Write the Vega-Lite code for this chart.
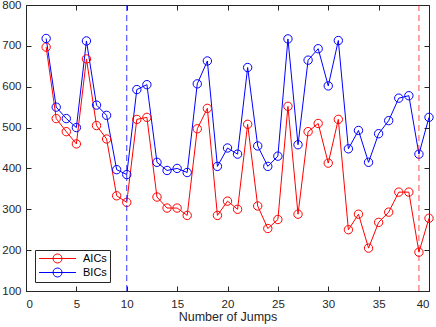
{
  "$schema": "https://vega.github.io/schema/vega-lite/v6.json",
  "width": 403,
  "height": 286,
  "autosize": {"type": "none"},
  "padding": {"left": 26, "top": 5, "right": 7, "bottom": 36},
  "background": "white",
  "config": {
    "font": "Liberation Sans",
    "view": {"stroke": "#262626", "strokeWidth": 1},
    "axis": {
      "grid": false,
      "domainColor": "#262626",
      "tickColor": "#262626",
      "labelColor": "#262626",
      "titleColor": "#262626",
      "labelFont": "Liberation Sans",
      "titleFont": "Liberation Sans",
      "labelFontSize": 11.5,
      "titleFontSize": 12.5,
      "titleFontWeight": "normal",
      "tickSize": -5
    }
  },
  "datasets": {
    "ic": [
      {"jumps": 2, "criterion": "AICs", "value": 697},
      {"jumps": 3, "criterion": "AICs", "value": 522},
      {"jumps": 4, "criterion": "AICs", "value": 490},
      {"jumps": 5, "criterion": "AICs", "value": 460},
      {"jumps": 6, "criterion": "AICs", "value": 668},
      {"jumps": 7, "criterion": "AICs", "value": 505},
      {"jumps": 8, "criterion": "AICs", "value": 472},
      {"jumps": 9, "criterion": "AICs", "value": 333},
      {"jumps": 10, "criterion": "AICs", "value": 317},
      {"jumps": 11, "criterion": "AICs", "value": 520},
      {"jumps": 12, "criterion": "AICs", "value": 525},
      {"jumps": 13, "criterion": "AICs", "value": 330},
      {"jumps": 14, "criterion": "AICs", "value": 303},
      {"jumps": 15, "criterion": "AICs", "value": 303},
      {"jumps": 16, "criterion": "AICs", "value": 285},
      {"jumps": 17, "criterion": "AICs", "value": 497},
      {"jumps": 18, "criterion": "AICs", "value": 547},
      {"jumps": 19, "criterion": "AICs", "value": 285},
      {"jumps": 20, "criterion": "AICs", "value": 320},
      {"jumps": 21, "criterion": "AICs", "value": 300},
      {"jumps": 22, "criterion": "AICs", "value": 508},
      {"jumps": 23, "criterion": "AICs", "value": 308},
      {"jumps": 24, "criterion": "AICs", "value": 253},
      {"jumps": 25, "criterion": "AICs", "value": 275},
      {"jumps": 26, "criterion": "AICs", "value": 552},
      {"jumps": 27, "criterion": "AICs", "value": 288},
      {"jumps": 28, "criterion": "AICs", "value": 490},
      {"jumps": 29, "criterion": "AICs", "value": 510},
      {"jumps": 30, "criterion": "AICs", "value": 413},
      {"jumps": 31, "criterion": "AICs", "value": 520},
      {"jumps": 32, "criterion": "AICs", "value": 250},
      {"jumps": 33, "criterion": "AICs", "value": 288},
      {"jumps": 34, "criterion": "AICs", "value": 205},
      {"jumps": 35, "criterion": "AICs", "value": 268},
      {"jumps": 36, "criterion": "AICs", "value": 293},
      {"jumps": 37, "criterion": "AICs", "value": 342},
      {"jumps": 38, "criterion": "AICs", "value": 342},
      {"jumps": 39, "criterion": "AICs", "value": 195},
      {"jumps": 40, "criterion": "AICs", "value": 278},
      {"jumps": 2, "criterion": "BICs", "value": 718},
      {"jumps": 3, "criterion": "BICs", "value": 550},
      {"jumps": 4, "criterion": "BICs", "value": 522},
      {"jumps": 5, "criterion": "BICs", "value": 500},
      {"jumps": 6, "criterion": "BICs", "value": 712},
      {"jumps": 7, "criterion": "BICs", "value": 555},
      {"jumps": 8, "criterion": "BICs", "value": 530},
      {"jumps": 9, "criterion": "BICs", "value": 397},
      {"jumps": 10, "criterion": "BICs", "value": 385},
      {"jumps": 11, "criterion": "BICs", "value": 593},
      {"jumps": 12, "criterion": "BICs", "value": 605},
      {"jumps": 13, "criterion": "BICs", "value": 415},
      {"jumps": 14, "criterion": "BICs", "value": 395},
      {"jumps": 15, "criterion": "BICs", "value": 400},
      {"jumps": 16, "criterion": "BICs", "value": 390},
      {"jumps": 17, "criterion": "BICs", "value": 607},
      {"jumps": 18, "criterion": "BICs", "value": 663},
      {"jumps": 19, "criterion": "BICs", "value": 405},
      {"jumps": 20, "criterion": "BICs", "value": 450},
      {"jumps": 21, "criterion": "BICs", "value": 435},
      {"jumps": 22, "criterion": "BICs", "value": 647},
      {"jumps": 23, "criterion": "BICs", "value": 455},
      {"jumps": 24, "criterion": "BICs", "value": 405},
      {"jumps": 25, "criterion": "BICs", "value": 430},
      {"jumps": 26, "criterion": "BICs", "value": 717},
      {"jumps": 27, "criterion": "BICs", "value": 458},
      {"jumps": 28, "criterion": "BICs", "value": 665},
      {"jumps": 29, "criterion": "BICs", "value": 693},
      {"jumps": 30, "criterion": "BICs", "value": 602},
      {"jumps": 31, "criterion": "BICs", "value": 713},
      {"jumps": 32, "criterion": "BICs", "value": 448},
      {"jumps": 33, "criterion": "BICs", "value": 493},
      {"jumps": 34, "criterion": "BICs", "value": 415},
      {"jumps": 35, "criterion": "BICs", "value": 485},
      {"jumps": 36, "criterion": "BICs", "value": 517},
      {"jumps": 37, "criterion": "BICs", "value": 572},
      {"jumps": 38, "criterion": "BICs", "value": 578},
      {"jumps": 39, "criterion": "BICs", "value": 435},
      {"jumps": 40, "criterion": "BICs", "value": 525}
    ]
  },
  "layer": [
    {
      "data": {"name": "ic"},
      "mark": {
        "type": "line",
        "strokeWidth": 1,
        "point": {"filled": false, "size": 70, "strokeWidth": 1}
      },
      "encoding": {
        "x": {
          "field": "jumps",
          "type": "quantitative",
          "title": "Number of Jumps",
          "scale": {"domain": [0, 40], "nice": false},
          "axis": {"values": [0, 5, 10, 15, 20, 25, 30, 35, 40], "labelPadding": 12, "titlePadding": 1, "orient": "bottom"}
        },
        "y": {
          "field": "value",
          "type": "quantitative",
          "title": null,
          "scale": {"domain": [100, 800], "nice": false},
          "axis": {"values": [100, 200, 300, 400, 500, 600, 700, 800], "labelPadding": 10, "orient": "left"}
        },
        "color": {
          "field": "criterion",
          "type": "nominal",
          "scale": {"domain": ["AICs", "BICs"], "range": ["#ff0000", "#0000ff"]},
          "legend": {
            "title": null,
            "orient": "bottom-left",
            "offset": 9,
            "strokeColor": "#262626",
            "fillColor": "white",
            "padding": 3,
            "rowPadding": 1,
            "labelFontSize": 11,
            "labelColor": "#000000",
            "labelFont": "Liberation Sans",
            "symbolType": "M-4.1,0H4.1M1,0A1,1,0,1,1,-1,0A1,1,0,1,1,1,0",
            "symbolSize": 81,
            "symbolOffset": 14,
            "symbolStrokeWidth": 1,
            "symbolFillColor": "transparent",
            "labelOffset": 20
          }
        }
      }
    },
    {
      "data": {"values": [{"jumps": 10, "lo": 100, "hi": 800}]},
      "mark": {"type": "rule", "color": "#0000ff", "strokeWidth": 1, "strokeDash": [6, 4], "opacity": 0.8},
      "encoding": {
        "x": {"field": "jumps", "type": "quantitative", "axis": {"orient": "top", "labels": false, "title": null, "domain": false, "values": [0, 5, 10, 15, 20, 25, 30, 35, 40]}},
        "y": {"field": "lo", "type": "quantitative", "axis": {"orient": "right", "labels": false, "title": null, "domain": false, "values": [100, 200, 300, 400, 500, 600, 700, 800]}},
        "y2": {"field": "hi"}
      }
    },
    {
      "data": {"values": [{"jumps": 39}]},
      "mark": {"type": "rule", "color": "#ff0000", "strokeWidth": 1, "strokeDash": [6, 4], "opacity": 0.7},
      "encoding": {
        "x": {"field": "jumps", "type": "quantitative", "axis": null}
      }
    }
  ],
  "resolve": {"axis": {"x": "independent", "y": "independent"}}
}
